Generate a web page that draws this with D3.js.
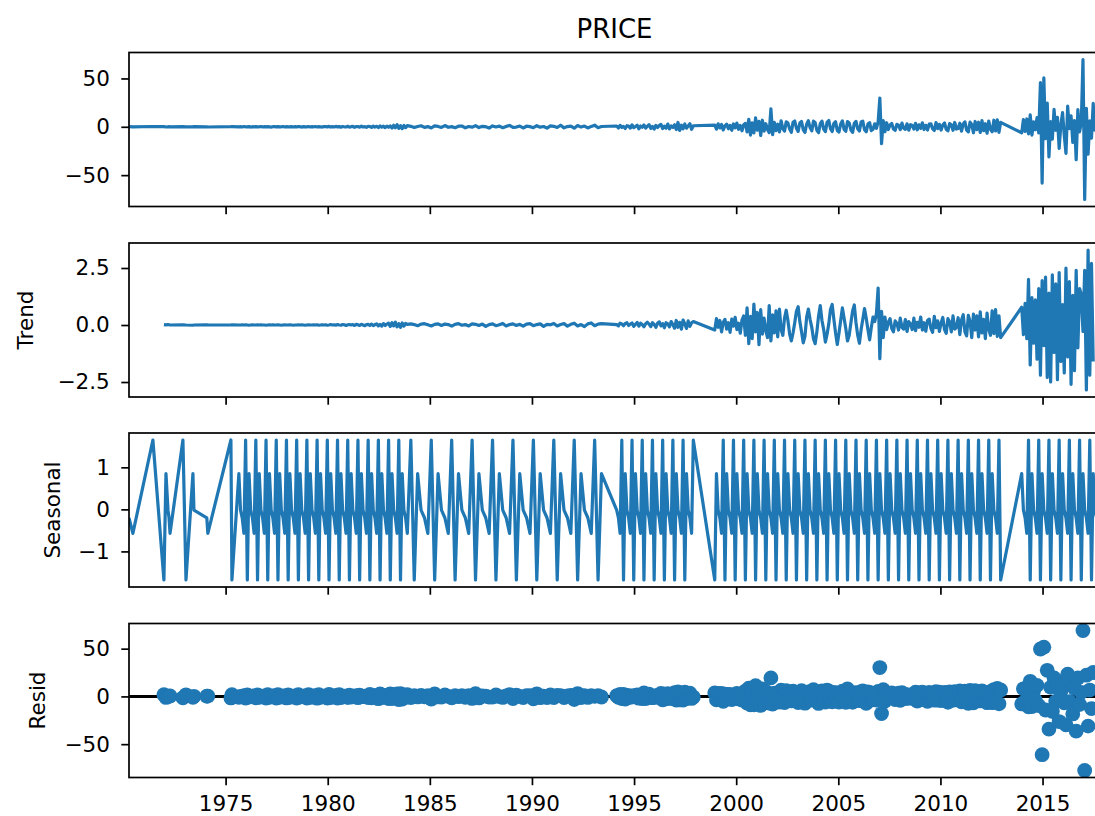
<!DOCTYPE html>
<html><head><meta charset="utf-8">
<script src="https://cdn.jsdelivr.net/npm/d3@7"></script>
<style>
body{margin:0;background:#fff}
svg{display:block}
text{font-family:"DejaVu Sans",sans-serif;fill:#000}
</style>
</head><body>
<svg id="chart" width="1095" height="816"></svg>
<script>
// ---------------- DATA ----------------
const title = "PRICE";
const panelLabels = ["", "Trend", "Seasonal", "Resid"];
const xTickValues = [1975, 1980, 1985, 1990, 1995, 2000, 2005, 2010, 2015];
const yTicksObserved = [-50, 0, 50];
const yTicksTrend = [-2.5, 0.0, 2.5];
const yTicksSeasonal = [-1, 0, 1];
const yTicksResid = [-50, 0, 50];

// observation dates (decimal years): sparse start, then runs [start, count, stepMonths]
const earlyDates = [1970.27,1970.46,1971.44,1971.98,1972.08,1972.18,1972.23,1972.28,1972.91,1973.06,1973.40,1973.45,1974.08,1974.13,1975.26,1975.31,1975.65];
const monthlyRuns = [[1975.73,99,1],[1984.07,57,2],[1994.15,46,1],[1998.95,169,1],[2013.98,47,1]];

// seasonal component: one period (6 observations), phase offset of first observation
const seasonalPattern = [1.65,-1.68,0.85,-0.02,-0.2,-0.57];
const seasonalPhase = 4;

// observed PRICE
const obsEarly = [0.2,-0.1,0.3,0.1,-0.2,0,0.1,-0.1,0.2,0,-0.1,0.1,0,-0.2,0.1,0.2,-0.1];
const obsRun1 = [0.1,-0.2,0.3,0,-0.1,0.2,-0.3,0.1,0,0.2,-0.1,
 0,0.3,-0.2,0.1,-0.1,0.2,0,-0.3,0.1,0.2,-0.1,
 0.2,-0.1,0,0.3,-0.2,0.1,0,-0.1,0.2,-0.2,0.1,
 -0.1,0.2,0.1,-0.3,0.2,0,-0.1,0.3,-0.2,0.1,0,
 0.3,-0.2,0.1,0,-0.3,0.2,0.1,-0.1,0.4,-0.3,0.2,
 -0.2,0.4,-0.1,0.2,-0.4,0.3,0,-0.2,0.5,-0.3,0.1,
 0.4,-0.5,0.2,0.3,-0.4,0.6,-0.2,0.1,-0.5,0.4,0.3,
 -0.6,0.7,-0.3,0.5,-0.8,0.9,-0.4,0.6,-0.9,0.7,-0.5,
 0.9,-1.3,1.6,-1.0,2.1,-1.7,1.1,-1.9,1.4,-0.9,1.2];
const obsRun2 = [0.5,-0.8,0.3,1.1,-0.6,0.2,-1.2,0.9,0.4,-0.7,1.3,-0.5,
 0.2,-0.9,0.6,0.8,-1.1,0.3,-0.4,1.2,-0.8,0.5,0.1,-1.3,
 0.9,-0.2,0.7,-1.0,0.4,1.4,-0.6,-0.3,0.8,-1.2,0.6,0.2,
 -0.9,1.1,-0.4,0.3,-1.4,0.9,0.5,-0.7,1.6,-1.1,0.2,0.6,
 -1.5,1.3,-0.3,0.8,-1.2,0.4,1.7,-0.9,0.3];
const obsRun3 = [0.8,-1.2,1.5,-0.6,0.4,-1.8,1.1,0.7,-1.4,2.0,-0.9,0.3,
 1.6,-2.1,0.8,-0.5,1.9,-1.3,0.6,2.2,-1.7,0.4,-2.4,1.5,
 -0.8,1.2,2.5,-1.9,0.7,-1.5,2.8,-2.2,1.0,-0.6,2.1,-2.8,
 4.5,-3.8,1.6,-2.0,2.9,-1.4,0.8,3.2,-2.6,1.1];
const obsRun4 = [1.8,-2.5,3.1,-1.2,2.4,-3.3,0.9,2.7,-2.0,1.5,-3.6,2.9,-1.1,3.8,-2.6,1.4,-4.1,2.2,3.5,
 -5.2,7.8,-8.6,4.1,-6.3,9.2,-3.5,5.6,-9.0,6.8,-4.4,3.2,
 -2.8,-6.1,18.5,-8.2,4.6,-3.9,2.7,-5.3,6.2,-1.8,
 -4.5,5.1,3.8,-2.2,-5.6,4.7,6.0,-1.5,-4.8,3.9,5.5,-3.1,
 -5.9,2.6,6.3,-0.8,-4.2,5.8,4.4,-3.6,-6.1,3.2,5.9,-2.4,
 -5.0,4.6,6.5,-1.9,-4.9,3.5,5.2,-3.8,-5.4,2.9,6.1,-2.7,
 -4.6,5.4,4.0,-3.3,-5.8,3.7,5.6,-2.1,-4.4,4.9,5.7,-3.0,
 -5.2,2.8,4.3,-3.9,-2.5,3.1,-1.6,
 5.2,29.6,-17.4,6.3,
 -5.1,4.2,-2.8,1.9,3.4,-2.2,-3.7,2.5,1.6,-2.9,3.8,-1.4,
 -2.6,3.1,-3.5,2.2,1.3,-2.4,3.6,-3.1,2.0,-1.7,4.1,-2.8,
 1.5,-3.3,2.7,3.0,-2.1,-3.8,4.4,-1.9,2.6,-3.4,1.8,3.9,
 -2.7,-4.2,3.3,2.1,-3.6,4.5,-2.3,-1.8,3.7,-4.6,2.9,5.1,
 -3.5,-5.3,4.8,2.4,-6.2,5.5,-3.0,4.7,-5.8,6.4,-4.1,3.2,
 -6.6,5.9,-2.7,-5.1,6.8,-4.3,7.2,-5.7,4.6];
const obsRun5 = [-6.2,7.5,-4.8,8.1,-7.3,
 12.4,-8.6,5.2,-3.1,
 9.5,-6.4,45.8,-58.2,50.6,-12.3,
 24.5,-31.2,5.3,-12.8,18.1,-3.6,9.7,-22.4,2.1,14.6,-8.9,-27.5,21.3,-1.8,11.4,-16.2,6.5,-34.1,17.8,-5.2,3.9,
 69.6,-75.2,
 19.2,-28.4,6.1,-11.7,24.3,-3.5,13.8,-20.6,2.4];

// trend
const trendEarly = [null,null,null,0.02,0.01,0.02,0.01,0.0,0.01,0.0,-0.01,0.0,0.01,0.0,0.0,0.01,0.0];
const trendRun1 = [0.0,0.01,0.0,0.01,0.0,-0.01,0.0,0.01,0.0,0.0,0.01,
 0.0,0.01,0.0,0.0,-0.01,0.0,0.01,0.0,0.01,0.0,0.0,
 0.01,0.0,-0.01,0.0,0.01,0.0,0.0,0.01,0.0,-0.01,0.0,
 0.0,0.01,0.0,0.01,0.0,-0.01,0.0,0.01,0.0,0.0,0.01,
 0.0,0.01,-0.01,0.0,0.01,0.0,0.01,-0.01,0.0,0.02,0.0,
 0.01,-0.01,0.02,0.0,-0.01,0.02,0.01,-0.02,0.01,0.02,
 0.0,0.02,-0.02,0.03,0.01,-0.02,0.03,0.0,-0.03,0.02,0.03,
 -0.02,0.04,-0.03,0.02,0.05,-0.04,0.03,-0.05,0.06,-0.02,0.04,
 0.08,-0.06,0.1,-0.04,0.12,-0.08,0.06,-0.1,0.09,-0.05,0.07];
const trendRun2 = [0.03,0.05,0.02,-0.03,0.04,0.06,0.01,-0.04,0.03,0.05,-0.02,0.04,
 0.02,-0.05,0.03,0.06,-0.01,0.02,-0.04,0.05,0.03,-0.02,0.04,-0.06,
 0.02,0.05,-0.03,0.01,0.07,-0.04,0.02,0.05,-0.02,0.03,-0.05,0.04,
 0.06,-0.03,0.02,0.05,-0.06,0.03,0.01,0.07,-0.04,0.02,0.06,-0.05,
 0.03,0.08,-0.04,0.02,-0.07,0.05,0.09,-0.03,0.04];
const trendRun3 = [0.06,0.02,-0.04,0.08,0.05,-0.03,0.07,0.1,-0.02,0.04,0.09,-0.06,
 0.03,0.11,-0.05,0.08,0.02,-0.08,0.06,0.12,0.04,-0.07,0.1,0.03,
 -0.1,0.08,0.14,-0.04,0.06,-0.12,0.1,0.05,-0.08,0.15,0.02,-0.14,
 0.2,-0.1,0.12,-0.18,0.22,0.05,-0.15,0.18,-0.06,0.1];
const trendRun4 = [0.15,-0.22,0.28,-0.1,0.2,-0.3,0.12,0.25,-0.18,0.1,-0.32,0.26,-0.05,0.34,-0.2,0.08,-0.36,0.22,0.4,
 -0.45,0.75,-0.82,0.38,-0.6,0.92,-0.3,0.55,-0.86,0.68,-0.4,0.3,
 -0.25,-0.55,0.85,-0.7,0.45,-0.35,0.62,-0.52,0.7,-0.2,
 -0.45,0.3,0.65,0.2,-0.4,-0.7,-0.35,0.1,0.6,0.8,0.15,-0.3,
 -0.78,-0.5,0.35,0.7,0.25,-0.1,-0.6,-0.82,-0.3,0.4,0.85,0.2,
 -0.2,-0.75,-0.4,0.05,0.68,0.9,0.25,-0.35,-0.85,-0.35,0.2,0.75,
 0.3,-0.15,-0.7,-0.45,0.1,0.62,0.88,0.1,-0.45,-0.8,-0.2,0.25,
 0.72,0.3,-0.2,-0.65,-0.1,0.35,0.15,
 0.5,1.62,-1.48,0.6,
 -0.55,0.35,-0.2,0.12,0.28,-0.15,-0.3,0.18,0.08,-0.22,0.3,-0.1,
 -0.18,0.24,-0.28,0.15,0.05,-0.2,0.3,-0.25,0.12,-0.1,0.35,-0.22,
 0.1,-0.27,0.2,0.26,-0.15,-0.32,0.38,-0.12,0.18,-0.28,0.1,0.33,
 -0.2,-0.36,0.28,0.14,-0.3,0.4,-0.18,-0.1,0.32,-0.42,0.22,0.45,
 -0.3,-0.48,0.42,0.16,-0.55,0.48,-0.22,0.4,-0.52,0.58,-0.35,0.25,
 -0.6,0.52,-0.18,-0.45,0.62,-0.38,0.68,-0.5,0.4];
const trendRun5 = [-0.55,0.78,-0.42,0.95,-0.6,
 2.0,-1.75,1.2,-0.8,
 1.1,-1.5,1.6,-2.2,1.95,-0.9,
 2.1,-2.3,1.4,-2.5,2.2,-1.2,1.8,-2.4,2.3,-1.6,0.9,-2.1,2.5,-1.4,1.9,-2.6,1.3,-2.0,2.4,-1.0,1.6,
 1.35,-0.28,
 2.4,-2.85,3.29,-2.2,2.7,-1.6,null,null,null];

// ---------------- BUILD SERIES ----------------
const dates = earlyDates.slice();
monthlyRuns.forEach(([start, count, step]) => {
  for (let i = 0; i < count; i++) dates.push(start + i * step / 12);
});
const observed = [].concat(obsEarly, obsRun1, obsRun2, obsRun3, obsRun4, obsRun5);
const trend = [].concat(trendEarly, trendRun1, trendRun2, trendRun3, trendRun4, trendRun5);
const seasonal = dates.map((d, i) => seasonalPattern[(i + seasonalPhase) % seasonalPattern.length]);
const resid = dates.map((d, i) => trend[i] == null ? null : observed[i] - trend[i] - seasonal[i]);

// ---------------- LAYOUT ----------------
const svg = d3.select("#chart");
const plotLeft = 129, plotRight = 1100;
const panelTops = [52.5, 243, 433, 623.5];
const panelH = 154;
const blue = "#1f77b4";
const tickFont = "21.5px";

const x = d3.scaleLinear().domain([dates[0], dates[dates.length - 1]]).range([plotLeft, plotRight]);

const panels = [
  {values: observed, ticks: yTicksObserved, fmt: d3.format("d"), label: panelLabels[0], labelX: 0, kind: "line"},
  {values: trend, ticks: yTicksTrend, fmt: d3.format(".1f"), label: panelLabels[1], labelX: 33, kind: "line"},
  {values: seasonal, ticks: yTicksSeasonal, fmt: d3.format("d"), label: panelLabels[2], labelX: 60, kind: "line"},
  {values: resid, ticks: yTicksResid, fmt: d3.format("d"), label: panelLabels[3], labelX: 45, kind: "scatter"}
];

const defs = svg.append("defs");

panels.forEach((p, pi) => {
  const top = panelTops[pi], bottom = top + panelH;
  const vals = p.values.filter(v => v != null);
  const [mn, mx] = d3.extent(vals);
  const pad = (mx - mn) * 0.05;
  const y = d3.scaleLinear().domain([mn - pad, mx + pad]).range([bottom, top]);

  const clipId = "clip" + pi;
  defs.append("clipPath").attr("id", clipId)
    .append("rect").attr("x", plotLeft).attr("y", top).attr("width", plotRight - plotLeft).attr("height", panelH);

  const g = svg.append("g");
  const data = dates.map((d, i) => ({d, v: p.values[i]}));

  if (p.kind === "line") {
    const line = d3.line().defined(o => o.v != null).x(o => x(o.d)).y(o => y(o.v));
    g.append("path").attr("clip-path", `url(#${clipId})`)
      .attr("d", line(data)).attr("fill", "none").attr("stroke", blue)
      .attr("stroke-width", 3.2).attr("stroke-linejoin", "round");
  } else {
    g.append("line").attr("clip-path", `url(#${clipId})`)
      .attr("x1", plotLeft).attr("x2", plotRight).attr("y1", y(0)).attr("y2", y(0))
      .attr("stroke", "#000").attr("stroke-width", 3);
    g.append("g").attr("clip-path", `url(#${clipId})`)
      .selectAll("circle").data(data.filter(o => o.v != null)).join("circle")
      .attr("cx", o => x(o.d)).attr("cy", o => y(o.v)).attr("r", 7.4).attr("fill", blue);
  }

  // y axis
  const yAxis = d3.axisLeft(y).tickValues(p.ticks).tickFormat(p.fmt).tickSize(7.7).tickPadding(11.5);
  const ya = svg.append("g").attr("transform", `translate(${plotLeft},0)`).call(yAxis);
  ya.select(".domain").remove();
  ya.selectAll(".tick line").attr("stroke", "#000").attr("stroke-width", 1.7);
  ya.selectAll(".tick text").attr("font-size", tickFont).attr("font-family", "DejaVu Sans").attr("fill", "#000");

  // x axis ticks
  const xAxis = d3.axisBottom(x).tickValues(xTickValues).tickFormat(pi === 3 ? d3.format("d") : () => "")
    .tickSize(7.7).tickPadding(6);
  const xa = svg.append("g").attr("transform", `translate(0,${bottom})`).call(xAxis);
  xa.select(".domain").remove();
  xa.selectAll(".tick line").attr("stroke", "#000").attr("stroke-width", 1.7);
  xa.selectAll(".tick text").attr("font-size", tickFont).attr("font-family", "DejaVu Sans").attr("fill", "#000")
    .attr("dy", "0.92em");

  // frame (spines)
  svg.append("rect").attr("x", plotLeft).attr("y", top).attr("width", plotRight - plotLeft).attr("height", panelH)
    .attr("fill", "none").attr("stroke", "#000").attr("stroke-width", 1.7);

  // y label
  if (p.label) {
    svg.append("text").attr("transform", `translate(${p.labelX},${top + panelH / 2}) rotate(-90)`)
      .attr("text-anchor", "middle").attr("font-size", tickFont).text(p.label);
  }
});

// title
svg.append("text").attr("x", (plotLeft + plotRight) / 2).attr("y", 38)
  .attr("text-anchor", "middle").attr("font-size", "26px").text(title);
</script>
</body></html>
